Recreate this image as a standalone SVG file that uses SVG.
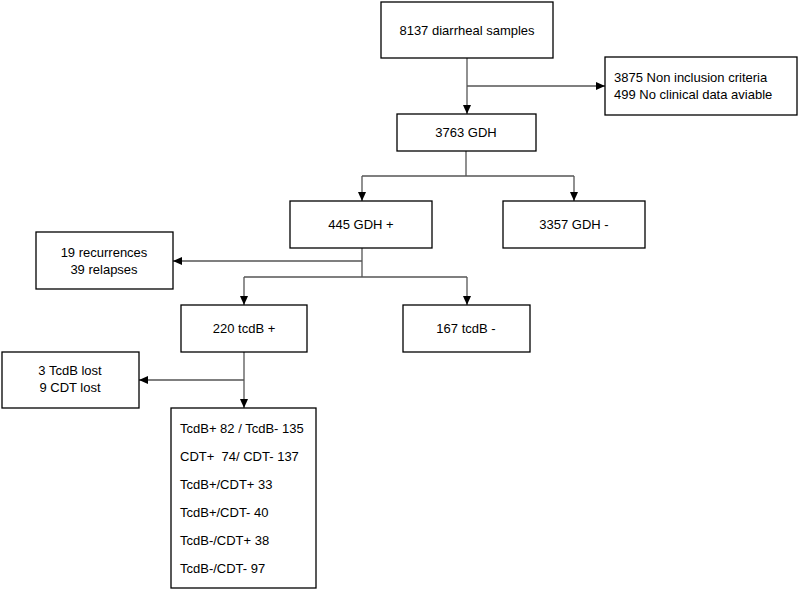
<svg xmlns="http://www.w3.org/2000/svg" width="800" height="590" viewBox="0 0 800 590">
<defs>
<style>
.box{fill:#fff;stroke:#000;stroke-width:1.3}
.ln{fill:none;stroke:#555;stroke-width:1.3}
text{font-family:"Liberation Sans",Arial,sans-serif;font-size:13px;fill:#000}
.c{text-anchor:middle}
</style>
<marker id="ar" markerWidth="10" markerHeight="10" refX="9" refY="5" orient="auto" markerUnits="userSpaceOnUse">
<path d="M0,1 L9,5 L0,9 Z" fill="#000"/>
</marker>
</defs>
<rect width="800" height="590" fill="#fff"/>
<g id="connectors">
<path class="ln" d="M467,58 V114" marker-end="url(#ar)"/>
<path class="ln" d="M467,86 H605" marker-end="url(#ar)"/>
<path class="ln" d="M466,151 V176 M362,176 H574"/>
<path class="ln" d="M362,176 V201" marker-end="url(#ar)"/>
<path class="ln" d="M574,176 V201" marker-end="url(#ar)"/>
<path class="ln" d="M362,248 V277 M244,277 H467"/>
<path class="ln" d="M362,261 H173" marker-end="url(#ar)"/>
<path class="ln" d="M244,277 V305" marker-end="url(#ar)"/>
<path class="ln" d="M467,277 V305" marker-end="url(#ar)"/>
<path class="ln" d="M244,352 V408" marker-end="url(#ar)"/>
<path class="ln" d="M244,380 H139" marker-end="url(#ar)"/>
</g>
<g id="n1"><rect class="box" x="381" y="2" width="172" height="56"/><text class="c" x="467" y="35">8137 diarrheal samples</text></g>
<g id="n2"><rect class="box" x="605" y="57" width="192" height="58"/><text x="614" y="82">3875 Non inclusion criteria</text><text x="614" y="99">499 No clinical data aviable</text></g>
<g id="n3"><rect class="box" x="397" y="114" width="139" height="37"/><text class="c" x="466" y="137">3763 GDH</text></g>
<g id="n4"><rect class="box" x="290" y="201" width="142" height="47"/><text class="c" x="361" y="229">445 GDH +</text></g>
<g id="n5"><rect class="box" x="503" y="201" width="142" height="47"/><text class="c" x="574" y="229">3357 GDH -</text></g>
<g id="n6"><rect class="box" x="36" y="232" width="137" height="57"/><text class="c" x="104" y="257">19 recurrences</text><text class="c" x="104" y="274">39 relapses</text></g>
<g id="n7"><rect class="box" x="181" y="305" width="126" height="47"/><text class="c" x="244" y="333">220 tcdB +</text></g>
<g id="n8"><rect class="box" x="403" y="305" width="127" height="47"/><text class="c" x="466" y="333">167 tcdB -</text></g>
<g id="n9"><rect class="box" x="2" y="352" width="137" height="56"/><text class="c" x="70" y="375">3 TcdB lost</text><text class="c" x="70" y="392">9 CDT lost</text></g>
<g id="n10"><rect class="box" x="171" y="408" width="145" height="180"/>
<text x="180" y="433">TcdB+ 82 / TcdB- 135</text>
<text x="180" y="461" xml:space="preserve">CDT+  74/ CDT- 137</text>
<text x="180" y="489">TcdB+/CDT+ 33</text>
<text x="180" y="517">TcdB+/CDT- 40</text>
<text x="180" y="545">TcdB-/CDT+ 38</text>
<text x="180" y="573">TcdB-/CDT- 97</text>
</g>
</svg>
